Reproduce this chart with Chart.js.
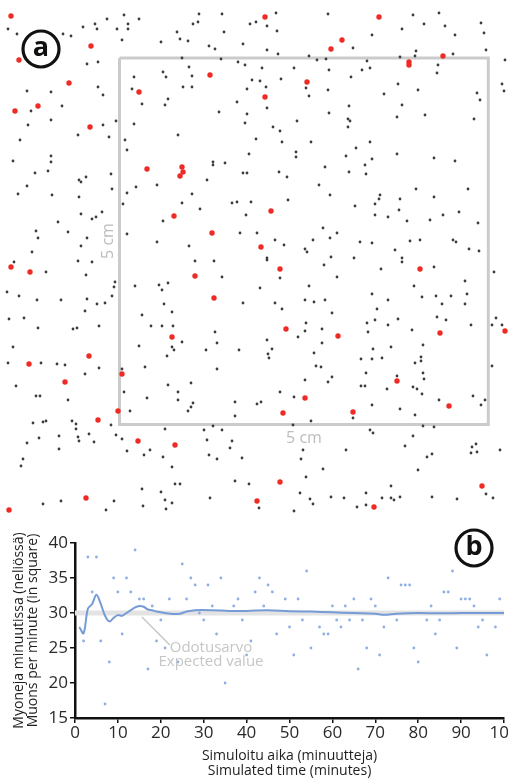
<!DOCTYPE html>
<html>
<head>
<meta charset="utf-8">
<script src="https://cdn.jsdelivr.net/npm/chart.js@4.4.0/dist/chart.umd.min.js"></script>
<style>
  html, body { margin: 0; padding: 0; background: #fff; }
  #kehys { position: relative; width: 508px; height: 780px; }
  canvas { position: absolute; left: 0; }
  #kartta { top: 0; }
  #kaavio { top: 520px; }
</style>
</head>
<body>
<div id="kehys">
  <canvas id="kartta" width="508" height="520"></canvas>
  <canvas id="kaavio" width="508" height="260"></canvas>
</div>
<script>
// (a) osumat, kuvan pikselikoordinaatteina [x, y]
const punaisetOsumat = [
  [11,16],[91,46],[19,60],[69,83],[15,111],[38,106],[90,127],[139,92],[210,75],[147,169],[182,167],[183,172],[180,176],[174,216],[212,233],
  [265,17],[379,17],[342,40],[331,49],[409,62],[409,65],[443,56],[307,82],[265,97],[271,211],[261,247],
  [11,267],[30,272],[195,276],[214,298],[172,337],[89,356],[29,364],[122,374],[65,382],[118,411],[98,420],[138,441],[175,445],[86,498],[9,510],
  [280,269],[420,269],[286,329],[338,336],[440,333],[505,331],[397,381],[305,398],[283,413],[353,412],[449,406],[280,482],[482,486],[257,501],[374,507]
];

const mustatOsumat = [
  [8,29],[17,34],[63,34],[71,36],[83,27],[95,24],[97,29],[107,19],[117,29],[124,15],[128,24],[128,29],[139,19],[122,40],[161,42],[177,32],[180,39],[188,41],[193,24],[199,14],[198,22],[222,14],[224,32],[243,44],[250,24],[209,46],[215,49],
  [87,64],[98,62],[182,58],[221,59],[238,62],[245,65],[189,67],[163,72],[166,77],[134,77],[192,76],[183,87],[192,87],[247,89],[252,80],
  [27,91],[51,92],[98,87],[103,95],[132,89],[142,104],[168,99],[165,105],[237,102],[219,112],[247,114],[245,123],
  [31,111],[62,106],[51,120],[28,125],[103,125],[116,121],[134,124],[178,135],[78,135],[109,137],[20,140],[125,140],[127,150],
  [13,161],[51,156],[51,162],[35,173],[48,171],[213,162],[213,165],[225,163],[249,154],[243,173],[247,173],
  [86,177],[79,180],[81,182],[111,174],[27,186],[112,189],[157,185],[136,187],[207,180],
  [18,194],[52,195],[79,197],[127,193],[192,194],[123,204],[182,203],[200,209],[232,203],[237,202],[251,202],
  [81,214],[92,219],[96,217],[102,212],[58,222],[163,221],[246,215],
  [36,231],[38,238],[68,232],[87,238],[127,234],[157,242],[189,246],[240,233],[81,246],[32,252],
  [276,13],[328,14],[413,15],[439,13],[256,22],[267,26],[277,31],[402,29],[424,24],[445,26],[481,23],[484,33],[372,35],[455,35],
  [267,50],[278,54],[353,48],[416,51],[486,50],[309,56],[317,60],[326,59],[367,61],[400,57],[415,56],[453,54],[505,60],
  [262,68],[294,68],[329,70],[362,70],[370,68],[438,65],[437,73],
  [260,81],[266,87],[281,79],[306,88],[328,90],[351,77],[398,84],[418,90],[477,93],[480,100],[502,84],[504,91],
  [267,108],[309,96],[329,113],[349,106],[384,94],[402,105],[348,119],[350,121],[397,117],[425,115],[474,119],
  [256,139],[273,127],[280,131],[297,121],[348,127],[282,142],[311,142],[370,142],[356,148],
  [296,152],[296,157],[346,156],[397,154],[434,158],[455,161],[372,159],[365,165],
  [279,172],[287,177],[325,167],[349,172],[366,174],[319,185],[416,189],[468,189],
  [288,200],[330,195],[355,206],[375,204],[380,195],[379,199],[400,199],[399,210],[434,197],[375,215],[388,217],[407,221],[430,220],[443,215],[459,212],[478,223],
  [257,233],[275,240],[284,245],[313,240],[323,228],[330,238],[337,233],[360,242],[372,243],[410,241],[420,240],[453,240],[456,242],[469,249],[479,251],[305,249],[307,252],[395,250],[267,258],[331,257],[354,258],[402,258],
  [14,262],[46,272],[86,275],[78,261],[92,262],[115,282],[114,287],[135,286],[159,285],[168,283],[162,290],[222,277],[214,261],[195,261],
  [7,292],[19,296],[37,300],[61,300],[87,299],[97,304],[105,303],[112,296],[164,304],[172,312],[243,303],[85,311],
  [9,319],[24,318],[38,328],[73,329],[77,328],[99,326],[142,315],[151,326],[162,326],[173,326],[215,332],[182,342],[217,343],[13,347],[139,346],[172,347],[174,350],[206,350],[239,350],[167,356],
  [8,363],[41,363],[57,364],[65,365],[85,374],[99,368],[122,369],[145,367],[217,369],
  [16,386],[36,396],[40,396],[68,400],[124,392],[147,398],[168,385],[178,392],[178,400],[191,383],[193,403],[191,407],[188,411],[235,402],[235,416],[130,411],
  [33,423],[43,422],[46,421],[72,421],[76,424],[111,425],[165,429],[204,430],[213,426],[222,430],
  [27,443],[39,438],[59,436],[59,449],[76,429],[78,437],[79,441],[89,434],[94,442],[116,435],[122,439],[127,451],[144,455],[150,450],[163,457],[172,467],[207,440],[232,441],[230,448],[209,455],[217,459],[242,458],
  [23,459],[21,466],[142,489],[161,492],[175,484],[180,484],[235,481],[249,484],[210,498],
  [43,504],[61,501],[114,501],[143,506],[165,500],[172,503],[166,509],[106,510],
  [267,260],[324,265],[381,269],[402,262],[434,267],[494,272],[280,278],[337,277],[260,288],[309,286],[372,294],[414,286],[465,281],[422,297],[436,296],[451,296],[467,294],
  [275,303],[305,300],[314,302],[325,300],[282,309],[377,309],[388,300],[442,304],[465,304],[332,313],
  [306,323],[305,331],[298,337],[322,329],[367,323],[375,320],[368,332],[388,325],[398,319],[412,330],[437,317],[446,320],[471,325],[492,325],[496,318],[502,325],
  [267,340],[272,349],[268,354],[269,358],[322,343],[314,353],[316,366],[321,367],[373,349],[361,359],[372,359],[382,358],[391,347],[415,363],[421,357],[421,361],[423,345],[423,373],[424,379],[366,373],[492,366],
  [305,380],[328,382],[332,377],[361,386],[365,386],[387,389],[397,376],[413,387],[417,389],[422,394],[280,392],[294,397],[257,404],[261,402],[372,405],[400,409],[415,415],[439,400],[473,396],[481,405],[485,400],
  [293,425],[311,421],[353,418],[370,430],[373,433],[423,426],[434,427],[413,436],[405,446],[427,457],[432,454],[472,447],[476,444],[477,452],[471,453],[500,450],[303,450],[301,459],[346,450],
  [323,469],[418,470],[306,477],[391,486],[300,493],[310,499],[313,504],[331,497],[344,498],[366,493],[357,507],[366,505],[382,498],[391,498],[394,500],[400,497],[432,497],[457,499],[486,494],[493,498],[294,511],[259,508]
];

// 5 cm x 5 cm neliö
const nelionKulmat = [[119.5,58],[488.3,58],[488.3,424.5],[119.5,424.5],[119.5,58]];

// (b) osumia minuutissa
const minuutit = [2,3,4,5,6,7,8,9,10,11,12,13,14,15,16,17,18,19,20,21,22,
  24,25,26,27,28,29,30,31,32,33,34,35,37,38,39,40,41,42,43,44,45,46,47,
  49,50,51,52,53,54,55,57,58,59,60,61,62,63,64,65,66,67,68,69,70,71,72,73,
  75,76,77,78,79,80,82,83,84,85,86,87,88,89,90,91,92,93,94,95,96,98,99];
const osumat = [26,38,33,38,26,17,23,35,33,27,35,33,39,32,32,22,31,26,29,25,32,
  23,37,32,35,34,30,29,34,31,27,35,20,31,32,29,24,26,33,35,31,34,33,27,
  32,28,24,32,29,36,25,28,27,27,31,29,28,31,29,32,22,29,25,32,31,24,28,35,
  29,34,34,34,25,23,29,31,27,29,33,33,36,25,32,32,32,31,28,29,24,28,32];

// juokseva keskiarvo
const keskiMinuutit = [1,2,3,4,5,6,7,8,9,10,11,12,13,14,15,16,17,18,19,21,24,26,28,32,36,40,45,50,55,60,65,70,72,75,80,85,90,95,100];
const keskiarvot = [28,27.1,30.6,31.3,32.6,31.3,29.6,28.8,29.3,29.7,29.6,30,30.4,30.8,31,30.9,30.5,30.4,30.2,30,29.85,30.2,30.4,30.4,30.3,30.3,30.4,30.25,30.2,30.1,30,29.9,29.75,29.9,30,29.95,30,30,30];

const odotusarvo = 30;
const xTicks = [0,10,20,30,40,50,60,70,80,90,100];
const yTicks = [15,20,25,30,35,40];

const FONTTI = '"Open Sans", "Noto Sans", sans-serif';

function pisteiksi(parit) {
    return parit.map(p => ({ x: p[0], y: p[1] }));
}

function piirraKirjain(ctx, cx, cy, kirjain) {
    ctx.save();
    ctx.beginPath();
    ctx.arc(cx, cy, 18, 0, Math.PI * 2);
    ctx.fillStyle = '#fff';
    ctx.fill();
    ctx.lineWidth = 3.2;
    ctx.strokeStyle = '#111';
    ctx.stroke();
    ctx.fillStyle = '#111';
    ctx.font = 'bold 27px ' + FONTTI;
    ctx.textAlign = 'center';
    ctx.textBaseline = 'middle';
    ctx.fillText(kirjain, cx, cy - 1);
    ctx.restore();
}

const karttaTekstit = {
    id: 'karttaTekstit',
    afterDraw(chart) {
        const { ctx } = chart;
        ctx.save();
        ctx.fillStyle = '#bdbdbd';
        ctx.font = '16px ' + FONTTI;
        ctx.textAlign = 'center';
        ctx.textBaseline = 'middle';
        ctx.fillText('5 cm', 304, 438);
        ctx.translate(108, 241);
        ctx.rotate(-Math.PI / 2);
        ctx.fillText('5 cm', 0, 0);
        ctx.restore();
        piirraKirjain(ctx, 41, 49, 'a');
    }
};

const kaavioTekstit = {
    id: 'kaavioTekstit',
    afterDraw(chart) {
        const { ctx, scales: { x, y } } = chart;
        ctx.save();
        ctx.fillStyle = '#c6c6c6';
        ctx.font = '15px ' + FONTTI;
        ctx.textAlign = 'center';
        ctx.textBaseline = 'middle';
        const tx = x.getPixelForValue(31.7);
        ctx.fillText('Odotusarvo', tx, y.getPixelForValue(25.1));
        ctx.fillText('Expected value', tx, y.getPixelForValue(23.0));
        ctx.restore();
        piirraKirjain(ctx, 474, 28, 'b');
    }
};

new Chart(document.getElementById('kartta'), {
    type: 'scatter',
    data: {
        datasets: [
            { data: pisteiksi(punaisetOsumat), pointRadius: 2.7, backgroundColor: '#ee2b25', borderWidth: 0, clip: false },
            { data: pisteiksi(mustatOsumat), pointRadius: 1.4, backgroundColor: '#3c3c3c', borderWidth: 0, clip: false },
            { data: pisteiksi(nelionKulmat), showLine: true, borderColor: '#cbcbcb', borderWidth: 3, pointRadius: 0, clip: false }
        ]
    },
    options: {
        responsive: false,
        animation: false,
        events: [],
        layout: { padding: 0, autoPadding: false },
        plugins: { legend: { display: false }, tooltip: { enabled: false } },
        scales: {
            x: { type: 'linear', display: false, min: 0, max: 508 },
            y: { type: 'linear', display: false, min: 0, max: 520, reverse: true }
        }
    },
    plugins: [karttaTekstit]
});

new Chart(document.getElementById('kaavio'), {
    type: 'scatter',
    data: {
        datasets: [
            {
                data: minuutit.map((m, i) => ({ x: m, y: osumat[i] })),
                pointRadius: 1.4, backgroundColor: '#8eaee4', borderWidth: 0
            },
            {
                data: keskiMinuutit.map((m, i) => ({ x: m, y: keskiarvot[i] })),
                showLine: true, borderColor: '#769bd6', borderWidth: 2, pointRadius: 0, tension: 0.35
            },
            {
                data: [{ x: 15.6, y: 29.43 }, { x: 22.1, y: 25.43 }],
                showLine: true, borderColor: '#c4c4c4', borderWidth: 1.3, pointRadius: 0
            },
            {
                data: [{ x: xTicks[0], y: odotusarvo }, { x: xTicks[xTicks.length - 1], y: odotusarvo }],
                showLine: true, borderColor: '#e3e3e3', borderWidth: 5, pointRadius: 0
            }
        ]
    },
    options: {
        responsive: false,
        animation: false,
        events: [],
        layout: { padding: { top: 23, right: 4, left: 0, bottom: 0 }, autoPadding: false },
        plugins: { legend: { display: false }, tooltip: { enabled: false } },
        scales: {
            x: {
                type: 'linear', min: 0, max: 100,
                afterBuildTicks: s => { s.ticks = xTicks.map(v => ({ value: v })); },
                afterFit: s => { s.height = 62; s.paddingLeft = 0; s.paddingRight = 0; },
                ticks: { color: '#2a2a2a', font: { size: 17, family: FONTTI }, padding: 0, maxRotation: 0 },
                grid: { drawOnChartArea: false, tickLength: 5, color: '#111', lineWidth: 1.5 },
                border: { color: '#111', width: 2.5 },
                title: {
                    display: true,
                    text: ['Simuloitu aika (minuutteja)', 'Simulated time (minutes)'],
                    color: '#1e1e1e', font: { size: 14, family: FONTTI, lineHeight: 1.05 },
                    padding: { top: 0, bottom: 2 }
                }
            },
            y: {
                type: 'linear', min: 15, max: 40,
                afterBuildTicks: s => { s.ticks = yTicks.map(v => ({ value: v })); },
                afterFit: s => { s.width = 75; s.paddingTop = 0; s.paddingBottom = 0; },
                ticks: { color: '#2a2a2a', font: { size: 17, family: FONTTI }, padding: 2 },
                grid: { drawOnChartArea: false, tickLength: 5, color: '#111', lineWidth: 1.5 },
                border: { color: '#111', width: 2.5 },
                title: {
                    display: true,
                    text: ['Myoneja minuutissa (neliössä)', 'Muons per minute (in square)'],
                    color: '#1e1e1e', font: { size: 14, family: FONTTI, lineHeight: 1.0 },
                    padding: { top: 12, bottom: 0 }
                }
            }
        }
    },
    plugins: [kaavioTekstit]
});
</script>
</body>
</html>
